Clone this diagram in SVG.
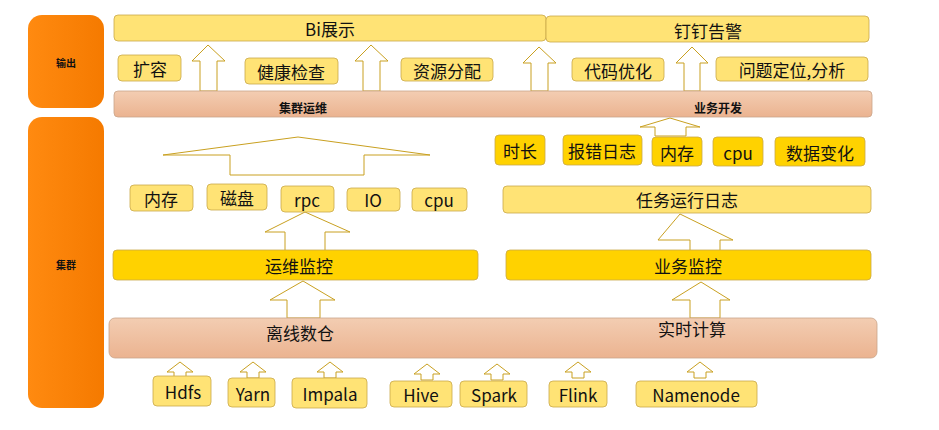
<svg xmlns="http://www.w3.org/2000/svg" width="939" height="430" viewBox="0 0 939 430">
<defs>
<linearGradient id="sal" x1="0" y1="0" x2="0" y2="1"><stop offset="0" stop-color="#F3CDB2"/><stop offset="1" stop-color="#EBB390"/></linearGradient>
<linearGradient id="org" x1="0" y1="0" x2="1" y2="0"><stop offset="0" stop-color="#FF8A10"/><stop offset="1" stop-color="#F57A00"/></linearGradient>
</defs>
<style>
text{font-family:"Noto Sans CJK SC","Liberation Sans",sans-serif;fill:#111;text-anchor:middle;dominant-baseline:central}
.ly{fill:#FFE375;stroke:#C9A84A;stroke-width:0.8}
.gd{fill:#FFD200;stroke:#C9A84A;stroke-width:0.8}
.sl{fill:url(#sal);stroke:#C9A48A;stroke-width:0.8}
.og{fill:url(#org)}
.ar{fill:#fff;stroke:#C9A020;stroke-width:1}
.t{font-size:17px}
.b{font-size:12px;font-weight:bold}
.s{font-size:10px;font-weight:bold}
</style>
<g id="side-out"><rect class="og" x="28" y="15" width="76" height="93" rx="14"/><text class="s" x="66" y="62">输出</text></g>
<g id="side-cluster"><rect class="og" x="28" y="117" width="76" height="291" rx="14"/><text class="s" x="66" y="264">集群</text></g>
<g id="connectors">
<path class="ar" d="M192,61 L208,45 L225,61 L217,61 L217,91 L200,91 L200,61 Z"/>
<path class="ar" d="M355,61 L371,45 L388,61 L380,61 L380,91 L363,91 L363,61 Z"/>
<path class="ar" d="M523,63 L539,47 L556,63 L548,63 L548,91 L531,91 L531,63 Z"/>
<path class="ar" d="M676,63 L692,47 L708,63 L700,63 L700,91 L684,91 L684,63 Z"/>
<path class="ar" d="M163,155 L298,137 L430,155 L364,155 L364,175 L230,175 L230,155 Z"/>
<path class="ar" d="M640,127 L670,118 L700,127 L686,127 L686,136 L655,136 L655,127 Z"/>
<path class="ar" d="M265,232 L305,212 L350,232 L325,232 L325,251 L285,251 L285,232 Z"/>
<path class="ar" d="M658,240 L680,214 L733,240 L720,240 L720,251 L690,251 L690,240 Z"/>
<path class="ar" d="M270,300 L303,281 L335,300 L320,300 L320,318 L287,318 L287,300 Z"/>
<path class="ar" d="M672,300 L701,282 L730,300 L720,300 L720,318 L690,318 L690,300 Z"/>
<path class="ar" d="M167,372 L180,362 L193,372 L186,372 L186,378 L174,378 L174,372 Z"/>
<path class="ar" d="M240,372 L253,362 L266,372 L259,372 L259,378 L247,378 L247,372 Z"/>
<path class="ar" d="M317,372 L330,362 L343,372 L336,372 L336,378 L324,378 L324,372 Z"/>
<path class="ar" d="M414,374 L427,364 L440,374 L433,374 L433,380 L421,380 L421,374 Z"/>
<path class="ar" d="M484,374 L497,364 L510,374 L503,374 L503,380 L491,380 L491,374 Z"/>
<path class="ar" d="M565,372 L578,362 L591,372 L584,372 L584,378 L572,378 L572,372 Z"/>
<path class="ar" d="M687,372 L700,362 L713,372 L706,372 L706,378 L694,378 L694,372 Z"/>
</g>
<g id="bi"><rect class="ly" x="114" y="15" width="432" height="26" rx="4"/><text class="t" x="330" y="28">Bi展示</text></g>
<g id="dingding"><rect class="ly" x="546" y="16" width="323" height="26" rx="4"/><text class="t" x="708" y="30">钉钉告警</text></g>
<g id="kuorong"><rect class="ly" x="118" y="55" width="63" height="26" rx="4"/><text class="t" x="150" y="68">扩容</text></g>
<g id="jiankang"><rect class="ly" x="245" y="58" width="93" height="26" rx="4"/><text class="t" x="291" y="71">健康检查</text></g>
<g id="ziyuan"><rect class="ly" x="401" y="58" width="92" height="23" rx="4"/><text class="t" x="447" y="70">资源分配</text></g>
<g id="daima"><rect class="ly" x="572" y="58" width="92" height="23" rx="4"/><text class="t" x="618" y="70">代码优化</text></g>
<g id="wenti"><rect class="ly" x="716" y="57" width="152" height="24" rx="4"/><text class="t" x="792" y="69">问题定位,分析</text></g>
<g id="ops-dev"><rect class="sl" x="114" y="91" width="758" height="26" rx="4"/><text class="b" x="303" y="107">集群运维</text><text class="b" x="718" y="107">业务开发</text></g>
<g id="shichang"><rect class="gd" x="495" y="135" width="50" height="30" rx="4"/><text class="t" x="520" y="150">时长</text></g>
<g id="baocuo"><rect class="gd" x="563" y="135" width="79" height="30" rx="4"/><text class="t" x="602" y="150">报错日志</text></g>
<g id="neicun2"><rect class="gd" x="652" y="137" width="50" height="29" rx="4"/><text class="t" x="677" y="152">内存</text></g>
<g id="cpu2"><rect class="gd" x="713" y="137" width="50" height="29" rx="4"/><text class="t" x="738" y="152">cpu</text></g>
<g id="shuju"><rect class="gd" x="775" y="137" width="90" height="29" rx="4"/><text class="t" x="820" y="152">数据变化</text></g>
<g id="neicun"><rect class="ly" x="130" y="185" width="63" height="26" rx="4"/><text class="t" x="161" y="198">内存</text></g>
<g id="cipan"><rect class="ly" x="207" y="184" width="60" height="26" rx="4"/><text class="t" x="237" y="197">磁盘</text></g>
<g id="rpc"><rect class="ly" x="281" y="186" width="53" height="26" rx="4"/><text class="t" x="307" y="199">rpc</text></g>
<g id="io"><rect class="ly" x="347" y="188" width="53" height="23" rx="4"/><text class="t" x="373" y="199">IO</text></g>
<g id="cpu"><rect class="ly" x="412" y="188" width="55" height="23" rx="4"/><text class="t" x="439" y="199">cpu</text></g>
<g id="renwu"><rect class="ly" x="503" y="186" width="368" height="27" rx="4"/><text class="t" x="687" y="199">任务运行日志</text></g>
<g id="yunwei"><rect class="gd" x="113" y="250" width="365" height="30" rx="4"/><text class="t" x="299" y="265">运维监控</text></g>
<g id="yewu"><rect class="gd" x="506" y="250" width="365" height="30" rx="4"/><text class="t" x="688" y="265">业务监控</text></g>
<g id="base"><rect class="sl" x="109" y="318" width="768" height="40" rx="6"/><text class="t" x="300" y="332">离线数仓</text><text class="t" x="692" y="328">实时计算</text></g>
<g id="hdfs"><rect class="ly" x="153" y="376" width="58" height="30" rx="4"/><text class="t" x="183" y="391">Hdfs</text></g>
<g id="yarn"><rect class="ly" x="228" y="378" width="47" height="29" rx="4"/><text class="t" x="253" y="393">Yarn</text></g>
<g id="impala"><rect class="ly" x="292" y="378" width="75" height="30" rx="4"/><text class="t" x="330" y="393">Impala</text></g>
<g id="hive"><rect class="ly" x="390" y="381" width="62" height="26" rx="4"/><text class="t" x="421" y="394">Hive</text></g>
<g id="spark"><rect class="ly" x="460" y="381" width="67" height="26" rx="4"/><text class="t" x="494" y="394">Spark</text></g>
<g id="flink"><rect class="ly" x="549" y="381" width="58" height="26" rx="4"/><text class="t" x="578" y="394">Flink</text></g>
<g id="namenode"><rect class="ly" x="636" y="381" width="121" height="26" rx="4"/><text class="t" x="696" y="394">Namenode</text></g>
</svg>
